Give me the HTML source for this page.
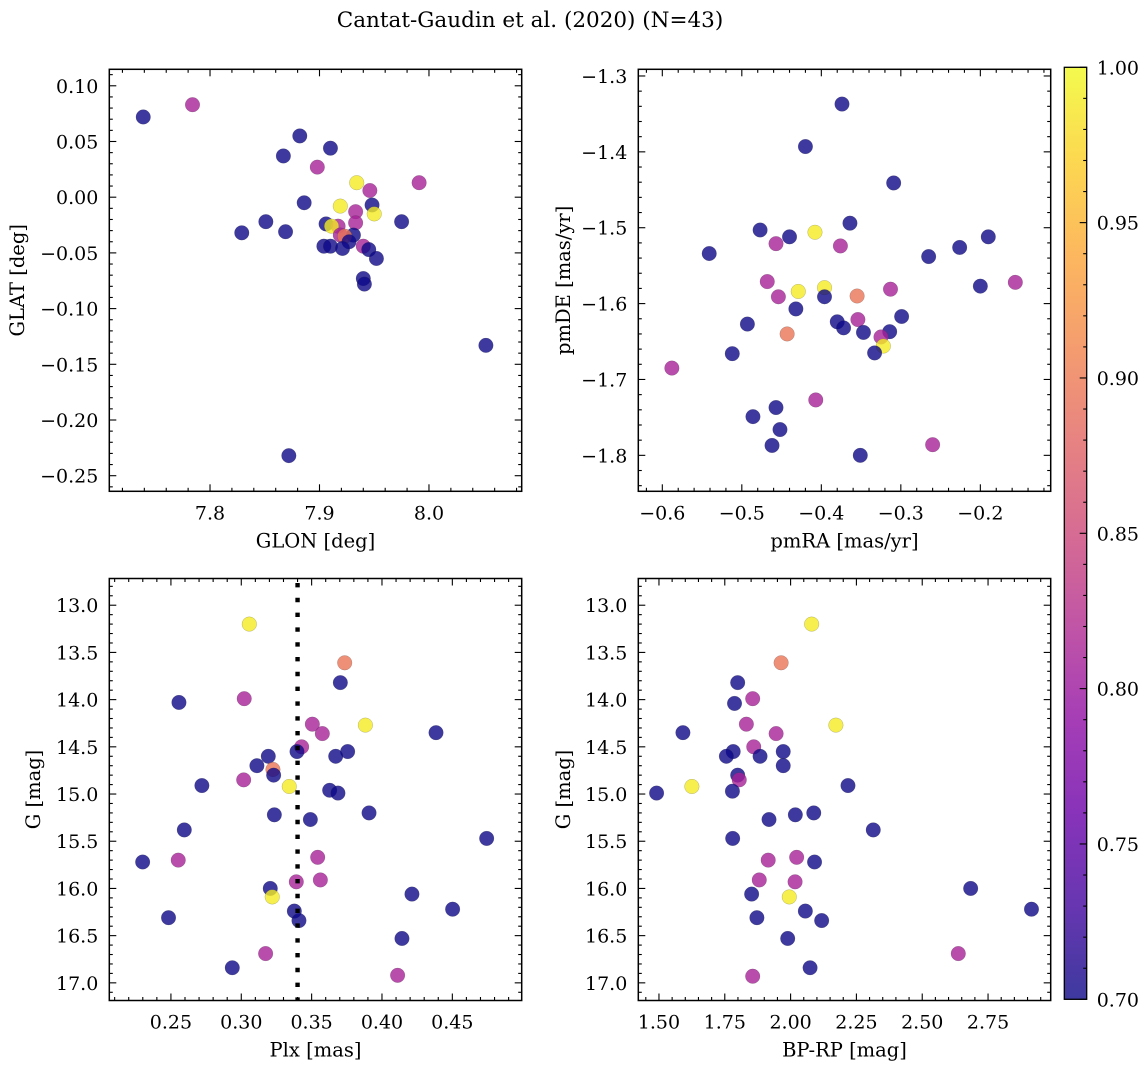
<!DOCTYPE html>
<html><head><meta charset="utf-8">
<style>
html,body{margin:0;padding:0;background:#fff;}
svg{display:block;font-family:"DejaVu Serif","Liberation Serif",serif;}
</style></head>
<body>
<svg id="fig" width="1148" height="1067" viewBox="0 0 1148 1067" xmlns="http://www.w3.org/2000/svg">
<defs>
<linearGradient id="plasma" x1="0" y1="1" x2="0" y2="0">
<stop offset="0" stop-color="#0d0887"/><stop offset="0.1" stop-color="#41049d"/><stop offset="0.2" stop-color="#6a00a8"/><stop offset="0.3" stop-color="#8f0da4"/><stop offset="0.4" stop-color="#b12a90"/><stop offset="0.5" stop-color="#cc4778"/><stop offset="0.6" stop-color="#e16462"/><stop offset="0.7" stop-color="#f2844b"/><stop offset="0.8" stop-color="#fca636"/><stop offset="0.9" stop-color="#fcce25"/><stop offset="1" stop-color="#f0f921"/>
</linearGradient>
</defs>
<text x="530" y="27" font-size="21.5" text-anchor="middle">Cantat-Gaudin et al. (2020) (N=43)</text>
</svg>
<script>
// Panel 1: GLON vs GLAT
const p1Glon=[7.739,7.784,7.882,7.867,7.910,7.898,7.934,7.946,7.991,7.886,7.919,7.948,7.950,7.933,7.933,7.975,7.851,7.829,7.869,7.906,7.917,7.911,7.931,7.919,7.923,7.927,7.904,7.910,7.921,7.940,7.945,7.952,7.940,7.941,8.052,7.872];
const p1Glat=[0.072,0.083,0.055,0.037,0.044,0.027,0.013,0.006,0.013,-0.005,-0.008,-0.007,-0.015,-0.013,-0.023,-0.022,-0.022,-0.032,-0.031,-0.024,-0.026,-0.026,-0.034,-0.034,-0.035,-0.040,-0.044,-0.044,-0.046,-0.044,-0.047,-0.055,-0.073,-0.078,-0.133,-0.232];
const p1Prob=[0.70,0.81,0.70,0.70,0.70,0.81,0.99,0.81,0.81,0.70,0.99,0.70,0.99,0.81,0.81,0.70,0.70,0.70,0.70,0.70,0.81,0.99,0.70,0.81,0.895,0.70,0.70,0.70,0.70,0.81,0.70,0.70,0.70,0.70,0.70,0.70];
// Panel 2: pmRA vs pmDE
const p2PmRA=[-0.374,-0.420,-0.309,-0.541,-0.477,-0.440,-0.408,-0.364,-0.457,-0.376,-0.265,-0.226,-0.190,-0.156,-0.200,-0.468,-0.454,-0.429,-0.396,-0.396,-0.355,-0.313,-0.432,-0.380,-0.372,-0.354,-0.347,-0.299,-0.314,-0.325,-0.322,-0.333,-0.493,-0.443,-0.512,-0.588,-0.407,-0.457,-0.486,-0.452,-0.462,-0.351,-0.260];
const p2PmDE=[-1.337,-1.393,-1.441,-1.534,-1.503,-1.512,-1.506,-1.494,-1.521,-1.524,-1.538,-1.526,-1.512,-1.572,-1.577,-1.571,-1.591,-1.584,-1.579,-1.591,-1.590,-1.581,-1.607,-1.624,-1.632,-1.621,-1.638,-1.617,-1.637,-1.644,-1.656,-1.665,-1.627,-1.640,-1.666,-1.685,-1.727,-1.737,-1.749,-1.766,-1.787,-1.800,-1.786];
const p2Prob=[0.70,0.70,0.70,0.70,0.70,0.70,0.99,0.70,0.81,0.81,0.70,0.70,0.70,0.81,0.70,0.81,0.81,0.99,0.99,0.70,0.895,0.81,0.70,0.70,0.70,0.81,0.70,0.70,0.70,0.81,0.99,0.70,0.70,0.895,0.70,0.81,0.81,0.70,0.70,0.70,0.70,0.70,0.81];
// Panel 3: Plx vs G
const p3Plx=[0.3057,0.3735,0.3704,0.2557,0.3021,0.3505,0.3576,0.3882,0.4384,0.3429,0.3396,0.3756,0.3671,0.3192,0.3111,0.3225,0.3230,0.3017,0.2720,0.3341,0.3628,0.3687,0.3235,0.3491,0.3908,0.2595,0.4744,0.2299,0.2552,0.3543,0.3562,0.3391,0.3206,0.3220,0.4213,0.3377,0.3410,0.4502,0.2483,0.4142,0.3173,0.2936,0.4111];
const p3G=[13.20,13.61,13.82,14.03,13.99,14.26,14.36,14.27,14.35,14.50,14.55,14.55,14.60,14.60,14.70,14.74,14.80,14.85,14.91,14.92,14.96,14.99,15.22,15.27,15.20,15.38,15.47,15.72,15.70,15.67,15.91,15.93,16.00,16.09,16.06,16.24,16.34,16.22,16.31,16.53,16.69,16.84,16.92];
const p3Prob=[0.99,0.895,0.70,0.70,0.81,0.81,0.81,0.99,0.70,0.81,0.70,0.70,0.70,0.70,0.70,0.895,0.70,0.81,0.70,0.99,0.70,0.70,0.70,0.70,0.70,0.70,0.70,0.70,0.81,0.81,0.81,0.81,0.70,0.99,0.70,0.70,0.70,0.70,0.70,0.70,0.81,0.70,0.81];
const p3PlxMean=[0.34];
// Panel 4: BP-RP vs G
const p4Color=[2.080,1.964,1.799,1.787,1.856,1.832,1.945,2.172,1.591,1.860,1.782,1.972,1.884,1.756,1.972,1.799,1.805,2.218,1.625,1.779,1.491,2.018,1.918,2.088,2.314,1.780,2.091,1.915,2.023,2.017,1.881,1.852,1.995,2.684,2.056,2.118,2.915,1.872,1.989,2.637,2.074,1.856];
const p4G=[13.20,13.61,13.82,14.04,13.99,14.26,14.36,14.27,14.35,14.50,14.55,14.55,14.60,14.60,14.70,14.80,14.85,14.91,14.92,14.97,14.99,15.22,15.27,15.20,15.38,15.47,15.72,15.70,15.67,15.93,15.91,16.06,16.09,16.00,16.24,16.34,16.22,16.31,16.53,16.69,16.84,16.93];
const p4Prob=[0.99,0.895,0.70,0.70,0.81,0.81,0.81,0.99,0.70,0.81,0.70,0.70,0.70,0.70,0.70,0.70,0.81,0.70,0.99,0.70,0.70,0.70,0.70,0.70,0.70,0.70,0.70,0.81,0.81,0.81,0.81,0.70,0.99,0.70,0.70,0.70,0.70,0.70,0.70,0.81,0.70,0.81];
// Colorbar
const cbTicks=[0.70,0.75,0.80,0.85,0.90,0.95,1.00];

const NS='http://www.w3.org/2000/svg';
const fig=document.getElementById('fig');
const FS=19;
const plasmaStops=[[13,8,135],[65,4,157],[106,0,168],[143,13,164],[177,42,144],[204,71,120],[225,100,98],[242,132,75],[252,166,54],[252,206,37],[240,249,33]];
function plasma(t){t=Math.max(0,Math.min(1,t));const f=t*10;const i=Math.min(9,Math.floor(f));const u=f-i;const a=plasmaStops[i],b=plasmaStops[i+1];return 'rgb('+a.map((v,k)=>Math.round(v+(b[k]-v)*u)).join(',')+')';}
function mk(tag,attrs,parent){const e=document.createElementNS(NS,tag);for(const k in attrs)e.setAttribute(k,attrs[k]);(parent||fig).appendChild(e);return e;}
function fmt(v,d){const s=Math.abs(v).toFixed(d);return (v<-1e-9?'\u2212':'')+s;}

function panel(o){
  const g=mk('g',{});
  
  
  const sx=v=>o.L+(v-o.x0)/(o.x1-o.x0)*o.W;
  const sy=o.invert?(v=>o.T+(v-o.y0)/(o.y1-o.y0)*o.H):(v=>o.T+(o.y1-v)/(o.y1-o.y0)*o.H);
  for(let i=0;i<o.xs.length;i++){
    const c=mk('circle',{cx:sx(o.xs[i]),cy:sy(o.ys[i]),r:7.3,fill:plasma((o.cs[i]-0.7)/0.3),'fill-opacity':0.8,stroke:'rgba(60,60,60,0.35)','stroke-width':0.5},g);
    
    
  }
  if(o.extra)o.extra(g,sx,sy);
  const R=o.L+o.W,B=o.T+o.H;
  const xs0=Math.ceil(o.x0/o.xMinor-1e-6);
  for(let k=xs0;k*o.xMinor<=o.x1+1e-9;k++){
    const v=k*o.xMinor;const isMaj=Math.abs(v/o.xMajor-Math.round(v/o.xMajor))<1e-6;const len=isMaj?7:3.5;const x=sx(v);
    mk('line',{x1:x,y1:B,x2:x,y2:B-len,stroke:'#000','stroke-width':1.1},g);
    mk('line',{x1:x,y1:o.T,x2:x,y2:o.T+len,stroke:'#000','stroke-width':1.1},g);
    if(isMaj){const t=mk('text',{x:x,y:B+28,'font-size':FS,'text-anchor':'middle'},g);t.textContent=fmt(v,o.xDec);
      }
  }
  const ylo=Math.min(o.y0,o.y1),yhi=Math.max(o.y0,o.y1);
  for(let k=Math.ceil(ylo/o.yMinor-1e-6);k*o.yMinor<=yhi+1e-9;k++){
    const v=k*o.yMinor;const isMaj=Math.abs(v/o.yMajor-Math.round(v/o.yMajor))<1e-6;const len=isMaj?7:3.5;const y=sy(v);
    mk('line',{x1:o.L,y1:y,x2:o.L+len,y2:y,stroke:'#000','stroke-width':1.1},g);
    mk('line',{x1:R,y1:y,x2:R-len,y2:y,stroke:'#000','stroke-width':1.1},g);
    if(isMaj){const t=mk('text',{x:o.L-11,y:y+7,'font-size':FS,'text-anchor':'end'},g);t.textContent=fmt(v,o.yDec);
      }
  }
  const fr=mk('rect',{x:o.L,y:o.T,width:o.W,height:o.H,fill:'none',stroke:'#000','stroke-width':1.5},g);
  
  const xl=mk('text',{x:o.L+o.W/2,y:B+56,'font-size':19.5,'text-anchor':'middle'},g);xl.textContent=o.xlabel;
  
  const yl=mk('text',{x:o.ylx,y:o.T+o.H/2,'font-size':19.5,'text-anchor':'middle',transform:'rotate(-90 '+o.ylx+' '+(o.T+o.H/2)+')'},g);yl.textContent=o.ylabel;
  
}
const W=412.4,H=422;
panel({name:'glon-glat-panel',L:109.3,T:69.3,W,H,x0:7.708,x1:8.0847,y0:-0.264,y1:0.1148,xs:p1Glon,ys:p1Glat,cs:p1Prob,xMajor:0.1,xMinor:0.02,yMajor:0.05,yMinor:0.01,xDec:1,yDec:2,xlabel:'GLON [deg]',ylabel:'GLAT [deg]',ylx:24});
panel({name:'pm-panel',L:638.3,T:69.3,W,H,x0:-0.6302,x1:-0.1115,y0:-1.8474,y1:-1.2912,xs:p2PmRA,ys:p2PmDE,cs:p2Prob,xMajor:0.1,xMinor:0.02,yMajor:0.1,yMinor:0.02,xDec:1,yDec:1,xlabel:'pmRA [mas/yr]',ylabel:'pmDE [mas/yr]',ylx:570});
panel({name:'plx-g-panel',L:109.3,T:578.5,W,H,x0:0.2062,x1:0.4993,y0:12.717,y1:17.187,invert:true,xs:p3Plx,ys:p3G,cs:p3Prob,xMajor:0.05,xMinor:0.01,yMajor:0.5,yMinor:0.1,xDec:2,yDec:1,xlabel:'Plx [mas]',ylabel:'G [mag]',ylx:40,
  extra:(g,sx,sy)=>{const x=sx(p3PlxMean[0]);const l=mk('line',{x1:x,y1:583,x2:x,y2:1001,stroke:'#000','stroke-width':4.4,'stroke-dasharray':'4.4 10.4'},g);
    }});
panel({name:'cmd-panel',L:638.3,T:578.5,W,H,x0:1.4215,x1:2.988,y0:12.717,y1:17.187,invert:true,xs:p4Color,ys:p4G,cs:p4Prob,xMajor:0.25,xMinor:0.05,yMajor:0.5,yMinor:0.1,xDec:2,yDec:1,xlabel:'BP-RP [mag]',ylabel:'G [mag]',ylx:570});

(function(){
  const L=1064.3,T=67.3,Wc=22.4,Hc=932;
  const g=mk('g',{});
  
  
  mk('rect',{x:L,y:T,width:Wc,height:Hc,fill:'url(#plasma)','fill-opacity':0.8},g);
  const sy=v=>T+(1.0-v)/0.3*Hc;
  for(let k=70;k<=100;k++){
    const v=k/100;const maj=(k%5===0);const y=sy(v);
    mk('line',{x1:L+Wc,y1:y,x2:L+Wc-(maj?7:3.5),y2:y,stroke:'#000','stroke-width':1.1},g);
  }
  for(let i=0;i<cbTicks.length;i++){
    const t=mk('text',{x:L+Wc+10,y:sy(cbTicks[i])+7,'font-size':FS},g);t.textContent=cbTicks[i].toFixed(2);
    
  }
  mk('rect',{x:L,y:T,width:Wc,height:Hc,fill:'none',stroke:'#000','stroke-width':1.3},g);
})();
</script>
</body></html>
